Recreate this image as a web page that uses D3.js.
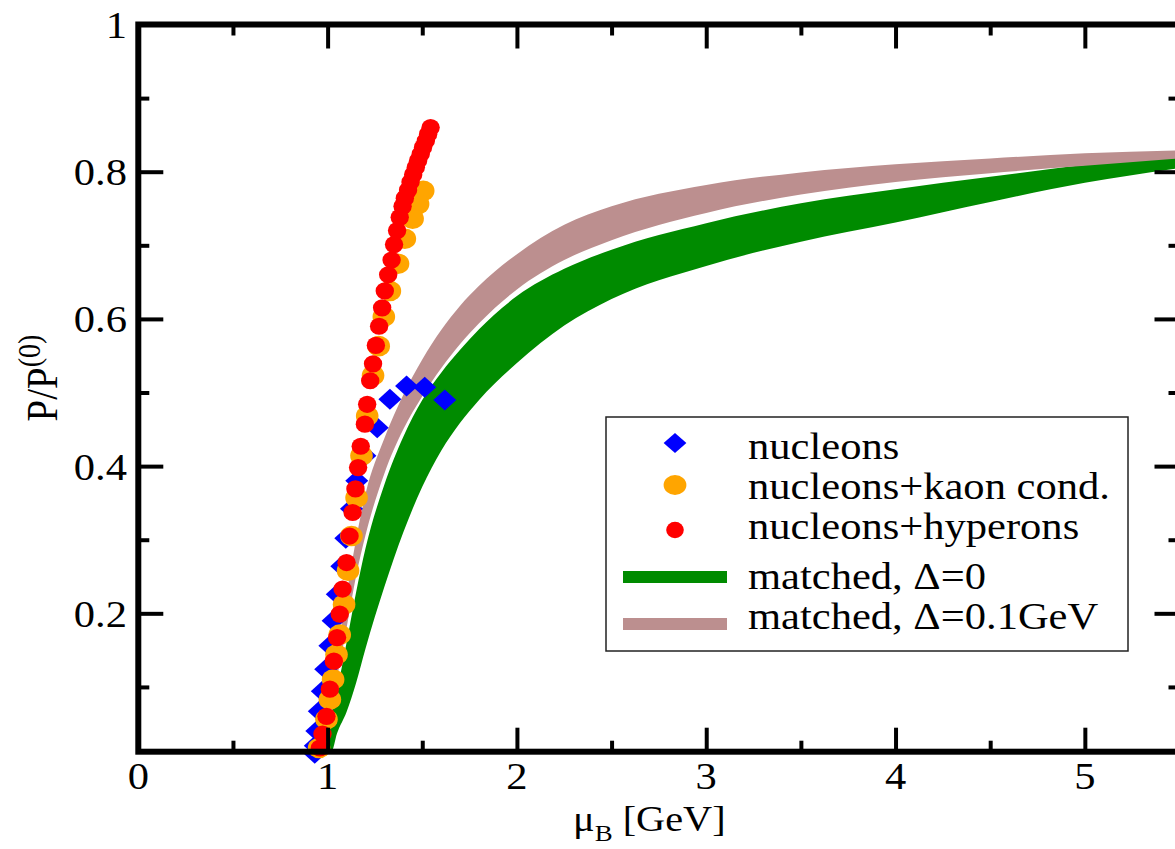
<!DOCTYPE html>
<html>
<head>
<meta charset="utf-8">
<script src="https://cdn.jsdelivr.net/npm/d3@7"></script>
<style>
  body { margin: 0; background: #fff; }
  svg { display: block; }
  text { font-family: "Liberation Serif", "Times New Roman", serif; fill: #000; }
</style>
</head>
<body>
<svg id="chart" width="1175" height="849"></svg>
<script>
/* global d3 */

// ---- data ----
const xTickValues = [0, 1, 2, 3, 4, 5];
const xTickLabels = ['0', '1', '2', '3', '4', '5'];
const xMinorTicks = [0.5, 1.5, 2.5, 3.5, 4.5];
const yTickValues = [0.2, 0.4, 0.6, 0.8, 1];
const yTickLabels = ['0.2', '0.4', '0.6', '0.8', '1'];
const yMinorTicks = [0.1, 0.3, 0.5, 0.7, 0.9];

// nucleons (blue diamonds)
const nucMu = [1.619, 1.513, 1.417, 1.329, 1.262, 1.197, 1.154, 1.126, 1.096, 1.075,
  1.051, 1.029, 1.012, 0.990, 0.972, 0.956, 0.943, 0.935, 0.932];
const nucP = [0.490, 0.507, 0.509, 0.491, 0.452, 0.414, 0.380, 0.342, 0.302, 0.264,
  0.226, 0.190, 0.156, 0.124, 0.094, 0.067, 0.040, 0.020, 0.010];

// nucleons + kaon condensation (orange)
const kaonMu = [1.505, 1.478, 1.449, 1.408, 1.372, 1.329, 1.297, 1.270, 1.240, 1.209,
  1.179, 1.153, 1.126, 1.108, 1.087, 1.064, 1.047, 1.029, 1.012, 0.994, 0.955];
const kaonP = [0.774, 0.756, 0.736, 0.709, 0.675, 0.638, 0.603, 0.563, 0.523, 0.468,
  0.414, 0.357, 0.305, 0.258, 0.212, 0.171, 0.144, 0.110, 0.083, 0.056, 0.017];

// nucleons + hyperons (red)
const hypMu = [1.544, 1.531, 1.519, 1.504, 1.492, 1.478, 1.466, 1.452, 1.438, 1.425,
  1.408, 1.396, 1.381, 1.367, 1.351, 1.338, 1.320, 1.302, 1.288, 1.272,
  1.255, 1.240, 1.225, 1.209, 1.197, 1.175, 1.161, 1.147, 1.132, 1.116,
  1.100, 1.079, 1.064, 1.050, 1.033, 1.012, 0.994, 0.973, 0.959];
const hypP = [0.860, 0.851, 0.842, 0.833, 0.824, 0.815, 0.806, 0.796, 0.786, 0.775,
  0.764, 0.753, 0.738, 0.720, 0.701, 0.680, 0.660, 0.638, 0.615, 0.590,
  0.564, 0.539, 0.516, 0.484, 0.457, 0.427, 0.398, 0.369, 0.337, 0.305,
  0.269, 0.233, 0.199, 0.167, 0.135, 0.097, 0.060, 0.036, 0.017];

// matched bands: common mu grid, lower / upper edge
const bandMu = [0.97, 1.00, 1.02, 1.05, 1.10, 1.15, 1.20, 1.30, 1.40, 1.50, 1.60,
  1.70, 1.80, 2.0, 2.25, 2.5, 3.0, 3.5, 4.0, 4.5, 5.0, 5.5];
const greenLo = [0.012, 0.012, 0.012, 0.037, 0.066, 0.105, 0.152, 0.236, 0.310, 0.372, 0.421,
  0.459, 0.490, 0.540, 0.591, 0.627, 0.672, 0.705, 0.731, 0.759, 0.785, 0.805];
const greenHi = [0.012, 0.012, 0.060, 0.095, 0.160, 0.228, 0.288, 0.375, 0.440, 0.490, 0.527,
  0.558, 0.586, 0.631, 0.668, 0.694, 0.730, 0.757, 0.776, 0.793, 0.809, 0.819];
const brownLo = [0.012, 0.030, 0.068, 0.112, 0.180, 0.250, 0.306, 0.390, 0.450, 0.495, 0.533,
  0.566, 0.594, 0.640, 0.680, 0.707, 0.744, 0.769, 0.786, 0.798, 0.808, 0.818];
const brownHi = [0.012, 0.060, 0.095, 0.145, 0.225, 0.300, 0.362, 0.438, 0.497, 0.545, 0.585,
  0.618, 0.645, 0.688, 0.728, 0.753, 0.782, 0.799, 0.810, 0.818, 0.825, 0.829];

const legendLabels = ['nucleons', 'nucleons+kaon cond.', 'nucleons+hyperons',
  'matched, \u0394=0', 'matched, \u0394=0.1GeV'];

// ---- setup ----
const svg = d3.select('#chart');
const FONT = 38;
const SX = 1.12; // the original figure is a little wider than tall

const x = d3.scaleLinear().domain([0, 5.5]).range([138.3, 1179.5]);
const y = d3.scaleLinear().domain([0.012, 1]).range([751.7, 24.5]);

const sText = (sel, px, py, str, anchor = 'start', size = FONT) => sel.append('text')
  .attr('transform', `translate(${px},${py}) scale(${SX},1)`)
  .attr('text-anchor', anchor)
  .attr('font-size', size)
  .text(str);

// bands
const band = (lo, hi) => d3.area()
  .curve(d3.curveMonotoneX)
  .x((d, i) => x(bandMu[i]))
  .y0((d, i) => y(lo[i]))
  .y1((d, i) => y(hi[i]));

svg.append('path').datum(bandMu)
  .attr('fill', '#008b00')
  .attr('d', band(greenLo, greenHi));
svg.append('path').datum(bandMu)
  .attr('fill', '#bc8f8f')
  .attr('d', band(brownLo, brownHi));

// markers
const diamond = (w, h) => `M0,${-h}L${w},0L0,${h}L${-w},0Z`;

svg.append('g').selectAll('path')
  .data(nucMu.map((m, i) => ({ m, p: nucP[i] })))
  .enter().append('path')
    .attr('transform', d => `translate(${x(d.m)},${y(d.p)})`)
    .attr('d', diamond(11.5, 10.5))
    .attr('fill', '#0000ff');

svg.append('g').selectAll('ellipse')
  .data(kaonMu.map((m, i) => ({ m, p: kaonP[i] })))
  .enter().append('ellipse')
    .attr('cx', d => x(d.m))
    .attr('cy', d => y(d.p))
    .attr('rx', 11.3)
    .attr('ry', 10.3)
    .attr('fill', '#ffa500');

svg.append('g').selectAll('ellipse')
  .data(hypMu.map((m, i) => ({ m, p: hypP[i] })))
  .enter().append('ellipse')
    .attr('cx', d => x(d.m))
    .attr('cy', d => y(d.p))
    .attr('rx', 9.2)
    .attr('ry', 8.6)
    .attr('fill', '#ff0000');

// ---- axes: ticks on all four sides, pointing in ----
const [x0, x1] = x.range();
const [yb, yt] = y.range();

const tickAxis = (axis, tx, ty, size) => {
  const gAxis = svg.append('g')
    .attr('transform', `translate(${tx},${ty})`)
    .call(axis.tickSize(size).tickSizeOuter(0).tickFormat(''));
  gAxis.select('.domain').remove();
  gAxis.selectAll('line').attr('stroke', '#000').attr('stroke-width', 4);
};

const xMaj = xTickValues.filter(v => v > 0);
const yMaj = yTickValues.filter(v => v < 1);
tickAxis(d3.axisBottom(x).tickValues(xMaj), 0, yb, -24);
tickAxis(d3.axisBottom(x).tickValues(xMinorTicks), 0, yb, -11);
tickAxis(d3.axisTop(x).tickValues(xMaj), 0, yt, -24);
tickAxis(d3.axisTop(x).tickValues(xMinorTicks), 0, yt, -11);
tickAxis(d3.axisLeft(y).tickValues(yMaj), x0, 0, -25);
tickAxis(d3.axisLeft(y).tickValues(yMinorTicks), x0, 0, -11);
tickAxis(d3.axisRight(y).tickValues(yMaj), x1, 0, -25);
tickAxis(d3.axisRight(y).tickValues(yMinorTicks), x1, 0, -11);

svg.append('rect')
  .attr('x', x0).attr('y', yt)
  .attr('width', x1 - x0).attr('height', yb - yt)
  .attr('fill', 'none')
  .attr('stroke', '#000')
  .attr('stroke-width', 6);

// tick labels
const xl = svg.append('g');
xTickValues.forEach((v, i) => sText(xl, x(v), 789, xTickLabels[i], 'middle'));
const yl = svg.append('g');
yTickValues.forEach((v, i) => sText(yl, 127, y(v) + 13.5, yTickLabels[i], 'end'));

// axis titles
const xt = svg.append('text')
  .attr('transform', `translate(573,831) scale(${SX},1)`)
  .attr('font-size', 36);
xt.append('tspan').text('\u03bc');
xt.append('tspan').attr('font-size', 24).attr('dy', 10).text('B');
xt.append('tspan').attr('dy', -10).text(' [GeV]');

const yt2 = svg.append('text')
  .attr('transform', `translate(57,378) rotate(-90) scale(1,${SX})`)
  .attr('text-anchor', 'middle')
  .attr('font-size', 39);
yt2.append('tspan').text('P/P');
yt2.append('tspan').attr('font-size', 28).attr('dy', -15).text('(0)');

// ---- legend ----
const lg = svg.append('g');
lg.append('rect')
  .attr('x', 606).attr('y', 417)
  .attr('width', 522).attr('height', 234)
  .attr('fill', '#fff')
  .attr('stroke', '#222')
  .attr('stroke-width', 1.5);

const rowMid = [443, 485, 530, 577, 624];
const rowBase = [459, 499, 539, 589, 629];

lg.append('path')
  .attr('transform', `translate(675,${rowMid[0]})`)
  .attr('d', diamond(11.4, 10))
  .attr('fill', '#0000ff');
lg.append('ellipse')
  .attr('cx', 675).attr('cy', rowMid[1])
  .attr('rx', 11.4).attr('ry', 10)
  .attr('fill', '#ffa500');
lg.append('ellipse')
  .attr('cx', 675).attr('cy', rowMid[2])
  .attr('rx', 8.8).attr('ry', 8.3)
  .attr('fill', '#ff0000');
lg.append('line')
  .attr('x1', 623).attr('x2', 727)
  .attr('y1', rowMid[3]).attr('y2', rowMid[3])
  .attr('stroke', '#008b00').attr('stroke-width', 12);
lg.append('line')
  .attr('x1', 623).attr('x2', 727)
  .attr('y1', rowMid[4]).attr('y2', rowMid[4])
  .attr('stroke', '#bc8f8f').attr('stroke-width', 12);

legendLabels.forEach((t, i) => sText(lg, 748, rowBase[i], t));
</script>
</body>
</html>
